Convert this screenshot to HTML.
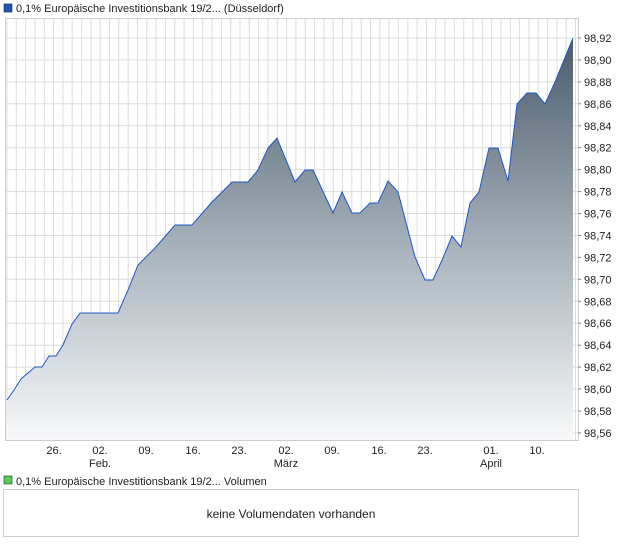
<!DOCTYPE html>
<html><head><meta charset="utf-8"><style>
body{margin:0;background:#fff;font-family:"Liberation Sans",sans-serif;}
</style></head><body>
<svg width="620" height="546" xmlns="http://www.w3.org/2000/svg" font-family="Liberation Sans, sans-serif">
<defs>
<linearGradient id="g" x1="0" y1="38" x2="0" y2="440" gradientUnits="userSpaceOnUse">
<stop offset="0" stop-color="#4a5b6a"/><stop offset="0.5" stop-color="#a3afb8"/><stop offset="1" stop-color="#f8f9fa"/>
</linearGradient>
</defs>
<rect x="4" y="4" width="8" height="8" fill="#1f57b8" stroke="#223" stroke-width="0.6"/>
<text x="16" y="12" font-size="11" fill="#222">0,1% Europäische Investitionsbank 19/2... (Düsseldorf)</text>
<rect x="5.5" y="18.5" width="573" height="422" fill="#fff" stroke="#ccc"/>
<g stroke="#dcdcdc" stroke-width="1" id="grid"></g>
<path id="area" fill="url(#g)"/>
<path id="line" fill="none" stroke="#1f57c8" stroke-width="1"/>
<g font-size="11" fill="#222" id="yl"></g>
<g font-size="11" fill="#222" text-anchor="middle">
<text x="54" y="454">26.</text><text x="100" y="454">02.</text><text x="146" y="454">09.</text><text x="193" y="454">16.</text><text x="239" y="454">23.</text><text x="286" y="454">02.</text><text x="332" y="454">09.</text><text x="379" y="454">16.</text><text x="425" y="454">23.</text><text x="491" y="454">01.</text><text x="537" y="454">10.</text>
<text x="100" y="467">Feb.</text><text x="286" y="467">März</text><text x="491" y="467">April</text>
</g>
<rect x="4" y="476" width="8" height="8" fill="#5c5" stroke="#333" stroke-width="0.6"/>
<text x="16" y="485" font-size="11" fill="#222">0,1% Europäische Investitionsbank 19/2... Volumen</text>
<rect x="3.5" y="489.5" width="575" height="47" fill="#fff" stroke="#ccc"/>
<text x="291" y="518" font-size="12" fill="#222" text-anchor="middle">keine Volumendaten vorhanden</text>
</svg>
<script>
var g=document.getElementById('grid'),s='';
for(var x=7;x<578;x+=9.32)s+='<line x1="'+x.toFixed(1)+'" y1="19" x2="'+x.toFixed(1)+'" y2="440"/>';
var yl='';
for(var i=0;i<=18;i++){var y=38+i*21.94;s+='<line x1="6" y1="'+y.toFixed(1)+'" x2="578" y2="'+y.toFixed(1)+'"/>';
yl+='<line x1="578" y1="'+y.toFixed(1)+'" x2="581" y2="'+y.toFixed(1)+'" stroke="#888"/><text x="584" y="'+(y+4).toFixed(1)+'">'+(98.92-i*0.02).toFixed(2).replace('.',',')+'</text>';}
g.innerHTML=s;document.getElementById('yl').innerHTML=yl;
var p=[[7,400],[14,390],[21,379],[35,367],[42,367],[49,356],[56,356],[63,345],[72,324],[80,313],[118,313],[128,290],[138,265],[155,248],[175,225],[192,225],[212,202],[232,182],[248,182],[258,170],[268,148],[277,138],[295,182],[305,170],[313,170],[333,213],[342,192],[352,213],[360,213],[370,203],[378,203],[388,181],[398,192],[415,257],[425,280],[433,280],[443,258],[452,236],[461,247],[470,203],[479,192],[489,148],[498,148],[508,181],[517,104],[527,93],[536,93],[545,104],[555,82],[573,38]];
var d='M'+p.map(function(a){return a.join(',')}).join(' L');
document.getElementById('line').setAttribute('d',d);
document.getElementById('area').setAttribute('d',d+' L573,440 L7,440 Z');
</script>
</body></html>
